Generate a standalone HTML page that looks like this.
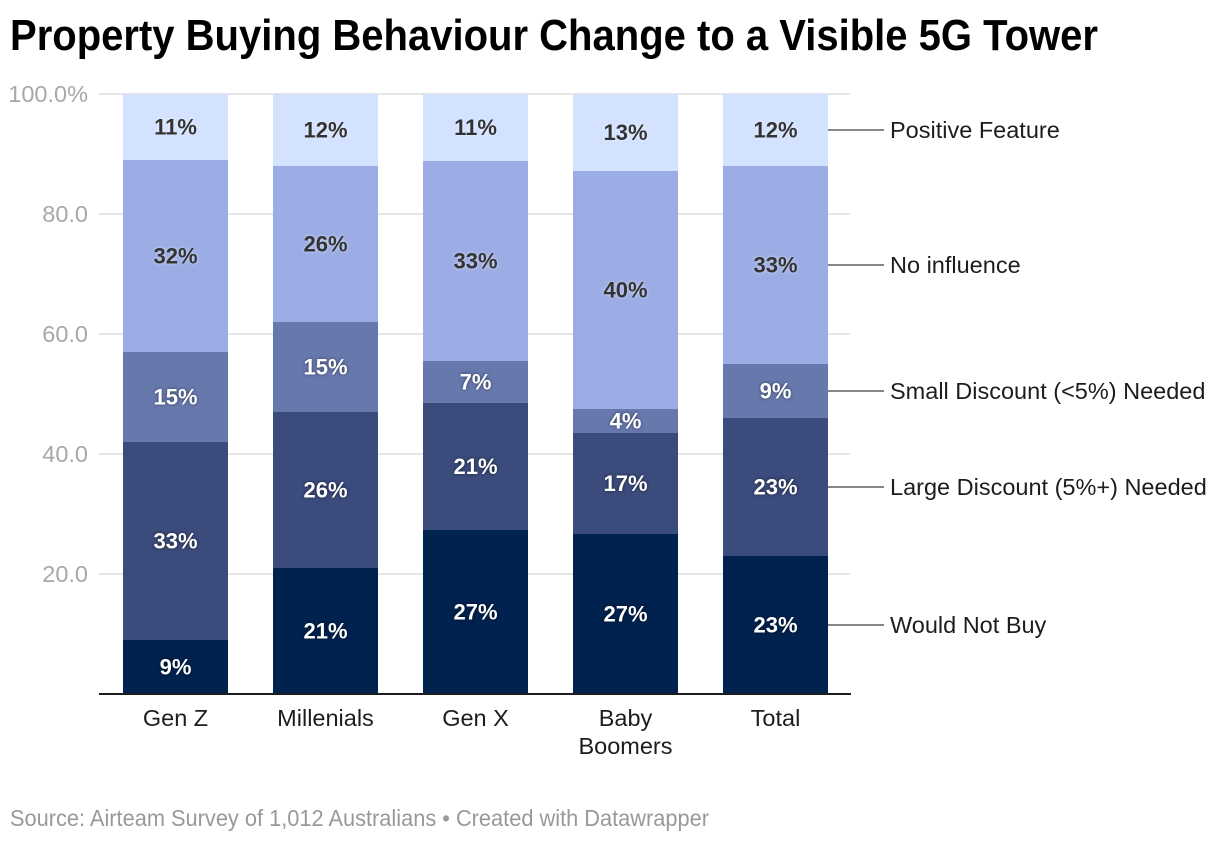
<!DOCTYPE html>
<html lang="en">
<head>
<meta charset="utf-8">
<title>Property Buying Behaviour Change to a Visible 5G Tower</title>
<style>
  html,body{margin:0;padding:0;background:#fff;}
  body{width:1220px;height:842px;overflow:hidden;}
  svg{display:block;font-family:"Liberation Sans",sans-serif;}
  .val{font-size:22px;font-weight:700;text-anchor:middle;dominant-baseline:central;}
  .tick{font-size:23.5px;fill:#a8a8a8;text-anchor:end;dominant-baseline:central;}
  .cat{font-size:23.5px;fill:#1d1d1d;text-anchor:middle;dominant-baseline:central;}
  .leg{font-size:23.5px;fill:#1d1d1d;dominant-baseline:central;}
</style>
</head>
<body>
<svg id="chart" width="1220" height="842" viewBox="0 0 1220 842" xmlns="http://www.w3.org/2000/svg">
  <text x="10" y="50" font-size="44" font-weight="700" fill="#000" textLength="1088" lengthAdjust="spacingAndGlyphs">Property Buying Behaviour Change to a Visible 5G Tower</text>
  <text x="10" y="826" font-size="23.5" fill="#999999" textLength="699" lengthAdjust="spacingAndGlyphs">Source: Airteam Survey of 1,012 Australians • Created with Datawrapper</text>
</svg>
<script>
const categories = [["Gen Z"], ["Millenials"], ["Gen X"], ["Baby", "Boomers"], ["Total"]];
const seriesNames = ["Would Not Buy", "Large Discount (5%+) Needed", "Small Discount (<5%) Needed", "No influence", "Positive Feature"];
const wouldNotBuy = [9, 21, 27.33, 26.67, 23];
const largeDiscount = [33, 26, 21.17, 16.83, 23];
const smallDiscount = [15, 15, 7, 4, 9];
const noInfluence = [32, 26, 33.33, 39.67, 33];
const positiveFeature = [11, 12, 11.17, 12.83, 12];
const yTicks = [20, 40, 60, 80, 100];
const yTickLabels = ["20.0", "40.0", "60.0", "80.0", "100.0%"];

const series = [wouldNotBuy, largeDiscount, smallDiscount, noInfluence, positiveFeature];
const fills = ["#00224e", "#3b4b7c", "#6778ad", "#9cade5", "#d3e2ff"];
const labelFills = ["#ffffff", "#ffffff", "#ffffff", "#333333", "#333333"];
const haloColors = ["rgba(0,0,0,.6)", "rgba(0,0,0,.6)", "rgba(0,0,0,.5)", "rgba(255,255,255,.6)", "rgba(255,255,255,.6)"];

const svg = document.getElementById("chart");
const NS = "http://www.w3.org/2000/svg";
const plot = { left: 99, right: 851, top: 94, bottom: 694, firstBar: 123, step: 150, barW: 105 };
const yScale = v => plot.bottom - (v / 100) * (plot.bottom - plot.top);
const xScale = i => plot.firstBar + i * plot.step;

function make(tag, attrs, text) {
  const el = document.createElementNS(NS, tag);
  Object.keys(attrs).forEach(k => el.setAttribute(k, attrs[k]));
  if (text !== undefined) el.textContent = text;
  svg.appendChild(el);
  return el;
}

yTicks.forEach((t, i) => {
  const grid = make("line", { x1: plot.left, x2: plot.right - 1, y1: yScale(t), y2: yScale(t), stroke: "#e6e6e6", "stroke-width": 2 });
  
  
  const label = make("text", { class: "tick", x: 88, y: yScale(t) }, yTickLabels[i]);
  
  
});

categories.forEach((cat, i) => {
  let cum = 0;
  series.forEach((vals, s) => {
    const v = vals[i];
    const y0 = yScale(cum), y1 = yScale(cum + v);
    const seg = make("rect", { x: xScale(i), y: y1, width: plot.barW, height: y0 - y1, fill: fills[s] });
    
    
    cum += v;
  });
});

categories.forEach((cat, i) => {
  let cum = 0;
  series.forEach((vals, s) => {
    const v = vals[i];
    const mid = yScale(cum + v / 2);
    const val = make("text", {
      class: "val", x: xScale(i) + plot.barW / 2, y: mid, fill: labelFills[s],
      style: "filter:drop-shadow(0 0 1.5px " + haloColors[s] + ")"
    }, Math.round(v) + "%");
    
    
    cum += v;
  });
  cat.forEach((line, j) => {
    const c = make("text", { class: "cat", x: xScale(i) + plot.barW / 2, y: 718 + j * 28 }, line);
    
    
  });
});

const baseline = make("line", { x1: plot.left, x2: plot.right, y1: plot.bottom, y2: plot.bottom, stroke: "#1d1d1d", "stroke-width": 2 });



const last = categories.length - 1;
let cumEnd = 0;
series.forEach((vals, s) => {
  const v = vals[last];
  const mid = yScale(cumEnd + v / 2);
  const barEnd = xScale(last) + plot.barW;
  const leader = make("line", { x1: barEnd, x2: barEnd + 56, y1: mid, y2: mid, stroke: "#888888", "stroke-width": 2 });
  
  
  const lab = make("text", { class: "leg", x: barEnd + 62, y: mid }, seriesNames[s]);
  
  
  cumEnd += v;
});
</script>
</body>
</html>
